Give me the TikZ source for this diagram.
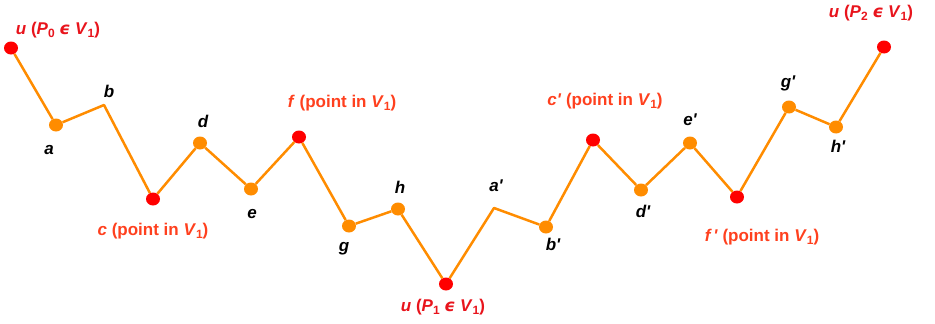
\documentclass[tikz,border=0pt]{standalone}
\usepackage{fontspec}
\usetikzlibrary{shapes.geometric}
\setmainfont{Liberation Sans}
\newfontfamily\dvs{DejaVu Sans}
\definecolor{lineor}{HTML}{FF8C00}
\definecolor{dotred}{HTML}{FF0000}
\definecolor{labred}{HTML}{E8141C}
\definecolor{labor}{HTML}{FF401E}
\newcommand{\sbs}[1]{\raisebox{-0.3ex}{\fontsize{12}{12}\selectfont #1}}
\newcommand{\Vone}{\textit{V}\sbs{1}}
\newcommand{\eps}{{\dvs\itshape ϵ}}
\newcommand{\pr}{\textquotesingle}
\begin{document}
\begin{tikzpicture}[x=1pt,y=-1pt,
  odot/.style={ellipse,fill=lineor,inner sep=0pt,minimum width=14pt,minimum height=13pt},
  rdot/.style={ellipse,fill=dotred,inner sep=0pt,minimum width=14pt,minimum height=13pt},
  edge/.style={draw=lineor,line width=2.5pt,line join=round},
  lab/.style={font=\fontsize{17}{19}\selectfont\bfseries\itshape,text=black,inner sep=0pt},
  ulab/.style={font=\fontsize{17}{19}\selectfont\bfseries,text=labred,inner sep=0pt},
  plab/.style={font=\fontsize{17}{19}\selectfont\bfseries,text=labor,inner sep=0pt}]
\useasboundingbox (0,0) rectangle (935,324);
% points
\node[rdot] (u0) at (11,48) {};
\node[odot] (a) at (56,125) {};
\coordinate (b) at (104,105);
\node[rdot] (c) at (153,199) {};
\node[odot] (d) at (200,143) {};
\node[odot] (e) at (251,189) {};
\node[rdot] (f) at (299,137) {};
\node[odot] (g) at (349,226) {};
\node[odot] (h) at (398,209) {};
\node[rdot] (u1) at (446,284) {};
\coordinate (a2) at (494,208);
\node[odot] (b2) at (546,227) {};
\node[rdot] (c2) at (593,140) {};
\node[odot] (d2) at (641,190) {};
\node[odot] (e2) at (690,143) {};
\node[rdot] (f2) at (737,197) {};
\node[odot] (g2) at (789,107) {};
\node[odot] (h2) at (836,127) {};
\node[rdot] (u2) at (884,47) {};
% path
\draw[edge] (u0) -- (a) -- (b) -- (c) -- (d) -- (e) -- (f) -- (g) -- (h) -- (u1)
  -- (a2) -- (b2) -- (c2) -- (d2) -- (e2) -- (f2) -- (g2) -- (h2) -- (u2);
% labels
\node[ulab] (lu0) at (58,30) {\textit{u} (\textit{P}\sbs{0} \eps\ \Vone)};
\node[lab] (la) at (49,150) {a};
\node[lab] (lb) at (109,91) {b};
\node[plab] (lc) at (153,231) {\textit{c} (point in \Vone)};
\node[lab] (ld) at (203,121) {d};
\node[lab] (le) at (252,214) {e};
\node[plab] (lf) at (342,103) {\textit{f} (point in \Vone)};
\node[lab] (lg) at (344,249) {g};
\node[lab] (lh) at (400,187) {h};
\node[ulab] (lu1) at (443,307) {\textit{u} (\textit{P}\sbs{1} \eps\ \Vone)};
\node[lab] (la2) at (496,186) {a\pr};
\node[lab] (lb2) at (553,244) {b\pr};
\node[plab] (lc2) at (605,101) {\textit{c\pr} (point in \Vone)};
\node[lab] (ld2) at (643,211) {d\pr};
\node[lab] (le2) at (690,120) {e\pr};
\node[plab] (lf2) at (762,237) {\textit{f\,\pr} (point in \Vone)};
\node[lab] (lg2) at (788,83) {g\pr};
\node[lab] (lh2) at (838,146) {h\pr};
\node[ulab] (lu2) at (871,13) {\textit{u} (\textit{P}\sbs{2} \eps\ \Vone)};
\end{tikzpicture}
\end{document}
